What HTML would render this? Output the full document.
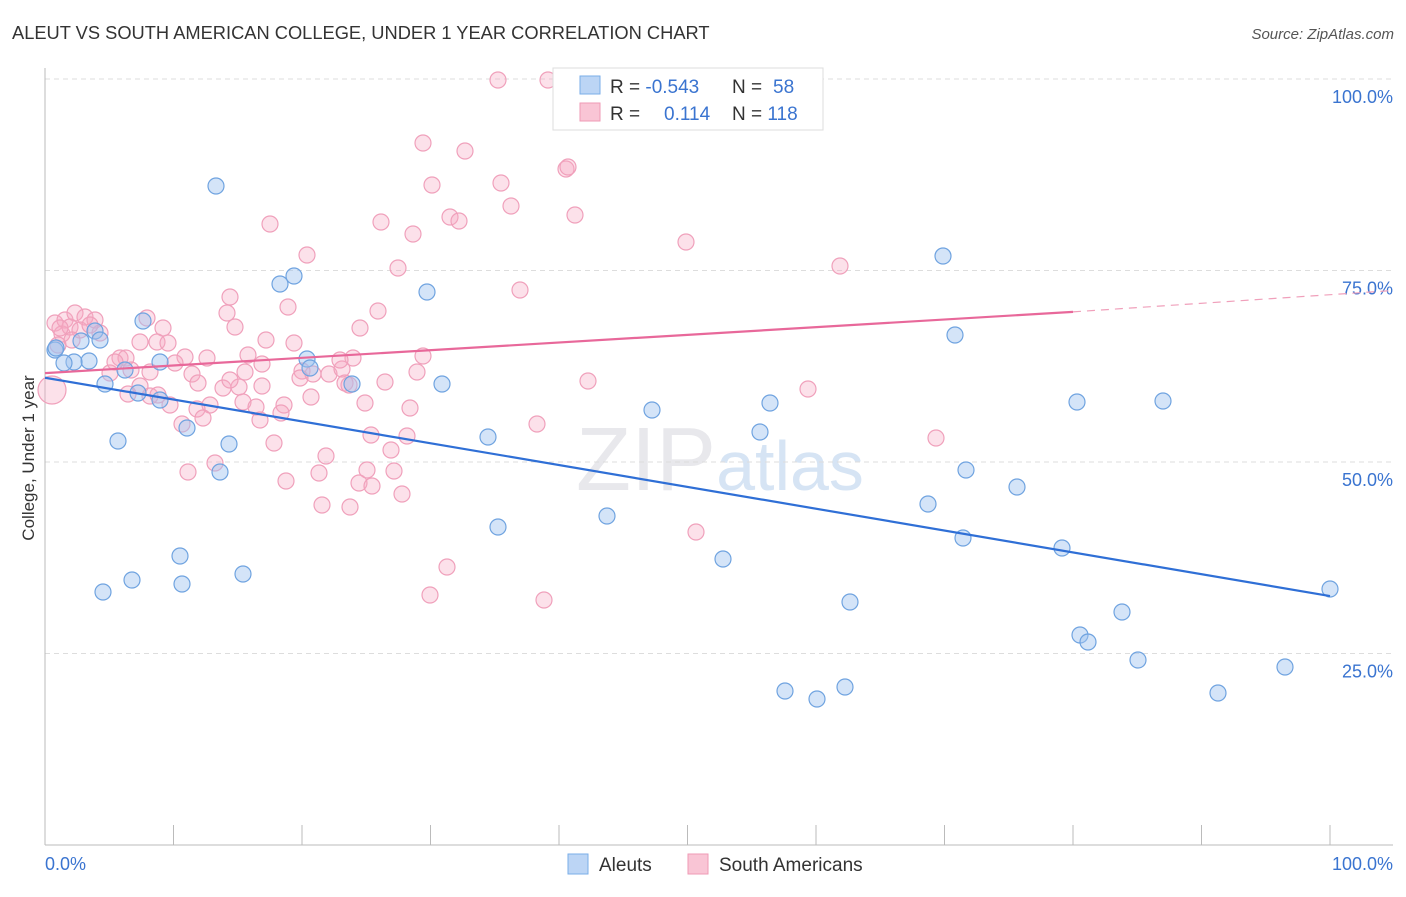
<!DOCTYPE html>
<html><head><meta charset="utf-8"><style>
body{margin:0;background:#fff;font-family:"Liberation Sans",sans-serif;}
svg text{font-family:"Liberation Sans",sans-serif;}
</style></head><body>
<svg id="chart" width="1406" height="892" xmlns="http://www.w3.org/2000/svg">
<text x="12" y="39" font-size="18.3" fill="#333">ALEUT VS SOUTH AMERICAN COLLEGE, UNDER 1 YEAR CORRELATION CHART</text>
<text x="1394" y="39" font-size="15" fill="#555" text-anchor="end" font-style="italic">Source: ZipAtlas.com</text>
<text x="720" y="490" font-size="90" fill="#e8e8ec" text-anchor="middle" font-family="Liberation Serif">ZIP<tspan fill="#d6e4f4" font-family="Liberation Sans" font-size="70">atlas</tspan></text>
<g id="grid"></g><g id="axes"></g><g id="pts"></g><g id="trends"></g>
<text transform="translate(34,458) rotate(-90)" font-size="17" fill="#333" text-anchor="middle">College, Under 1 year</text>
<g>
<rect x="553" y="68" width="270" height="62" fill="#fff" stroke="#ddd"/>
<rect x="580" y="76" width="20" height="18" fill="#bcd5f5" stroke="#7aaee8"/>
<rect x="580" y="103" width="20" height="18" fill="#f9c5d5" stroke="#ef9ab5"/>
<text x="610" y="93" font-size="19" fill="#333">R = <tspan fill="#3a74d0">-0.543</tspan><tspan x="732">N = </tspan><tspan fill="#3a74d0" x="773">58</tspan></text>
<text x="610" y="120" font-size="19" fill="#333">R = <tspan fill="#3a74d0" x="664">0.114</tspan><tspan x="732">N = </tspan><tspan fill="#3a74d0">118</tspan></text>
</g>
<g>
<rect x="568" y="854" width="20" height="20" fill="#bcd5f5" stroke="#7aaee8"/>
<text x="599" y="871" font-size="19" fill="#333">Aleuts</text>
<rect x="688" y="854" width="20" height="20" fill="#f9c5d5" stroke="#ef9ab5"/>
<text x="719" y="871" font-size="19" fill="#333">South Americans</text>
</g>
</svg>
<script>
const yTicks=[25,50,75,100];
const xTickLabels=["0.0%","100.0%"];
const blue=[[216,186],[280,284],[294,276],[427,292],[143,321],[81,341],[55,350],[89,361],[74,362],[125,370],[105,384],[138,393],[160,400],[307,359],[352,384],[442,384],[118,441],[187,428],[229,444],[220,472],[488,437],[180,556],[103,592],[132,580],[182,584],[243,574],[498,527],[607,516],[652,410],[723,559],[770,403],[760,432],[785,691],[817,699],[845,687],[850,602],[943,256],[955,335],[966,470],[928,504],[963,538],[1017,487],[1077,402],[1163,401],[1062,548],[1080,635],[1088,642],[1122,612],[1138,660],[1218,693],[1285,667],[1330,589],[95,331],[56,348],[100,340],[64,363],[160,362],[310,368]].map(p=>[(p[0]-45)/12.85,(845-p[1])/7.66]);
const pink=[[498,80],[548,80],[423,143],[465,151],[432,185],[501,183],[566,169],[568,167],[511,206],[575,215],[381,222],[450,217],[459,221],[413,234],[270,224],[307,255],[398,268],[686,242],[840,266],[520,290],[230,297],[288,307],[378,311],[227,313],[55,323],[65,320],[75,313],[85,317],[95,320],[100,333],[62,334],[70,327],[58,345],[147,318],[163,328],[235,327],[360,328],[266,340],[294,343],[157,342],[168,343],[140,342],[185,357],[207,358],[175,363],[120,358],[126,358],[248,355],[262,364],[353,358],[423,356],[302,371],[313,374],[329,374],[342,369],[417,372],[131,370],[110,373],[192,374],[198,383],[223,388],[239,387],[262,386],[345,383],[349,385],[385,382],[588,381],[808,389],[140,386],[128,394],[150,396],[158,395],[243,402],[256,407],[210,405],[197,409],[284,405],[311,397],[281,413],[410,408],[182,424],[203,418],[274,443],[371,435],[407,436],[391,450],[537,424],[936,438],[326,456],[215,463],[188,472],[367,470],[394,471],[319,473],[286,481],[359,483],[372,486],[402,494],[322,505],[350,507],[696,532],[447,567],[430,595],[544,600],[52,390],[80,330],[90,325],[60,328],[72,340],[115,362],[150,372],[170,405],[300,378],[340,360],[230,380],[260,420],[365,403],[245,372]].map(p=>[(p[0]-45)/12.85,(845-p[1])/7.66]);
const blueTrend=[[0,61],[100,32.5]];
const pinkTrend=[[0,61.6],[80,69.6],[105,72.4]];
const X=v=>45+v*12.85, Y=v=>845-v*7.66;
const NS="http://www.w3.org/2000/svg";
function mk(t,a,parent){const e=document.createElementNS(NS,t);for(const k in a)e.setAttribute(k,a[k]);document.getElementById(parent).appendChild(e);return e;}
yTicks.forEach(t=>{
 const l=mk('line',{x1:45,x2:1393,y1:Y(t),y2:Y(t),stroke:'#ddd','stroke-dasharray':'5,4'},'grid');
 
 
 const tx=mk('text',{x:1393,y:Y(t)+24,'font-size':18,fill:'#3a74d0','text-anchor':'end'},'grid');
 
 
 tx.textContent=t.toFixed(1)+'%';
});
const ax=mk('line',{x1:45,x2:1393,y1:845,y2:845,stroke:'#bbb'},'axes');


const ay=mk('line',{x1:45,x2:45,y1:68,y2:845,stroke:'#bbb'},'axes');


for(let i=0;i<=10;i++){const t=mk('line',{x1:X(i*10),x2:X(i*10),y1:825,y2:845,stroke:'#bbb'},'axes');
 
 }
[[0,'start',45],[100,'end',1393]].forEach((d,i)=>{const t=mk('text',{x:d[2],y:870,'font-size':18,fill:'#3a74d0','text-anchor':d[1]},'axes');
 
 
 t.textContent=xTickLabels[i];});
pink.forEach((p,i)=>{const c=mk('circle',{cx:X(p[0]),cy:Y(p[1]),r:(i==104?14:8),fill:'rgba(246,170,195,0.35)',stroke:'#f0a0bb','stroke-width':1.2},'pts');
 
 });
blue.forEach(p=>{const c=mk('circle',{cx:X(p[0]),cy:Y(p[1]),r:8,fill:'rgba(160,196,240,0.45)',stroke:'#6fa3e0','stroke-width':1.2},'pts');
 
 });
const bt=mk('line',{x1:X(blueTrend[0][0]),y1:Y(blueTrend[0][1]),x2:X(blueTrend[1][0]),y2:Y(blueTrend[1][1]),stroke:'#2f6fd6','stroke-width':2.2},'trends');


const pt=mk('line',{x1:X(pinkTrend[0][0]),y1:Y(pinkTrend[0][1]),x2:X(pinkTrend[1][0]),y2:Y(pinkTrend[1][1]),stroke:'#e8689a','stroke-width':2.2},'trends');


const pd=mk('line',{x1:X(pinkTrend[1][0]),y1:Y(pinkTrend[1][1]),x2:X(pinkTrend[2][0]),y2:Y(pinkTrend[2][1]),stroke:'#f0a0bb','stroke-width':1.2,'stroke-dasharray':'8,6'},'trends');


</script>
</body></html>
